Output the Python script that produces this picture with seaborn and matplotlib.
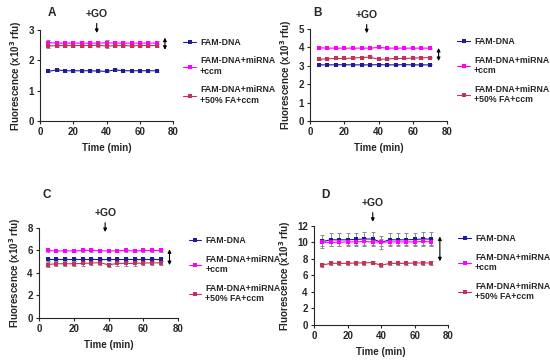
import numpy as np
import pandas as pd
import matplotlib
matplotlib.use("Agg")
import matplotlib.pyplot as plt
import seaborn as sns

sns.set_style("ticks")
plt.rcParams['font.family'] = ['Liberation Sans', 'DejaVu Sans']
plt.rcParams['font.weight'] = 'bold'

# time points (min)
time = [5, 10, 15, 20, 25, 30, 35, 40, 45, 50, 55, 60, 65, 70]
series_names = ["FAM-DNA", "FAM-DNA+miRNA\n+ccm", "FAM-DNA+miRNA\n+50% FA+ccm"]
colors = ["#1c1c9c", "#ff00ff", "#c8305a"]

# panel A
a_dna = [1.63, 1.68, 1.65, 1.65, 1.65, 1.65, 1.64, 1.63, 1.68, 1.65, 1.65, 1.65, 1.65, 1.65]
a_mir = [2.58, 2.56, 2.56, 2.56, 2.56, 2.56, 2.56, 2.57, 2.56, 2.56, 2.56, 2.56, 2.56, 2.56]
a_fa = [2.46, 2.48, 2.48, 2.48, 2.48, 2.48, 2.49, 2.46, 2.48, 2.48, 2.47, 2.48, 2.48, 2.48]
a_err = [0.03, 0.08, 0.05]

# panel B
b_dna = [3.05, 3.05, 3.05, 3.06, 3.05, 3.05, 3.05, 3.06, 3.05, 3.05, 3.06, 3.05, 3.05, 3.05]
b_mir = [3.98, 3.96, 3.96, 3.96, 3.96, 3.96, 3.96, 4.00, 3.96, 3.96, 3.96, 3.96, 3.96, 3.96]
b_fa = [3.35, 3.38, 3.40, 3.40, 3.42, 3.45, 3.47, 3.35, 3.37, 3.40, 3.40, 3.42, 3.43, 3.45]
b_err = [0.03, 0.03, 0.04]

# panel C
c_dna = [5.2, 5.2, 5.2, 5.2, 5.2, 5.2, 5.2, 5.2, 5.2, 5.2, 5.2, 5.2, 5.2, 5.2]
c_mir = [6.0, 5.95, 5.98, 5.95, 6.0, 6.0, 5.98, 5.95, 5.98, 6.0, 5.95, 6.0, 6.0, 6.0]
c_fa = [4.75, 4.82, 4.82, 4.82, 4.85, 4.88, 4.92, 4.72, 4.85, 4.85, 4.85, 4.88, 4.9, 4.9]
c_err = [0.15, 0.1, 0.2]

# panel D
d_dna = [10.1, 10.3, 10.3, 10.3, 10.35, 10.4, 10.4, 10.0, 10.3, 10.3, 10.3, 10.35, 10.4, 10.4]
d_mir = [10.0, 10.0, 10.0, 10.05, 10.05, 10.1, 10.05, 10.0, 10.05, 10.05, 10.05, 10.05, 10.1, 10.05]
d_fa = [7.25, 7.45, 7.45, 7.45, 7.5, 7.5, 7.55, 7.2, 7.45, 7.45, 7.45, 7.5, 7.5, 7.5]
d_err = [0.8, 0.4, 0.2]

# letter, values, errors, ymax, ystep, GO x, GO text y / tip y (axes frac), double arrow, axes rect, letter pos
panels = [
    ("A", [a_dna, a_mir, a_fa], a_err, 3, 1, 34, (1.12, 0.965), (2.34, 2.74),
     [0.073, 0.667, 0.242, 0.251], (52, 13)),
    ("B", [b_dna, b_mir, b_fa], b_err, 5, 1, 33, (1.10, 0.955), (3.26, 3.97),
     [0.564, 0.667, 0.249, 0.253], (317, 13)),
    ("C", [c_dna, c_mir, c_fa], c_err, 8, 2, 38, (1.11, 0.955), (4.7, 6.1),
     [0.071, 0.124, 0.253, 0.248], (47, 195)),
    ("D", [d_dna, d_mir, d_fa], d_err, 12, 2, 35, (1.18, 1.04), (7.7, 10.7),
     [0.571, 0.105, 0.244, 0.273], (325, 195)),
]

fig = plt.figure(figsize=(5.5, 3.63), dpi=100)

for letter, vals, errs, ymax, ystep, go_x, go_y, arr, rect, lpos in panels:
    ax = fig.add_axes(rect)
    df = pd.DataFrame({
        "time": time * 3,
        "value": vals[0] + vals[1] + vals[2],
        "series": [s for s in series_names for _ in time],
    })
    for name, v, e, c in zip(series_names, vals, errs, colors):
        ax.errorbar(time, v, yerr=e, fmt="none", ecolor="#8a8a8a", elinewidth=0.7,
                    capsize=1.5, capthick=0.7, zorder=1)
    sns.lineplot(data=df, x="time", y="value", hue="series", palette=colors,
                 marker="s", markersize=2.5, markeredgewidth=0, linewidth=0.8,
                 ax=ax, zorder=2)
    ax.set_xlim(0, 80)
    ax.set_ylim(0, ymax)
    ax.set_xticks([0, 20, 40, 60, 80])
    ax.set_yticks(np.arange(0, ymax + 0.01, ystep))
    sns.despine(ax=ax)
    ax.tick_params(labelsize=7, length=2.5, width=0.8, pad=2)
    for lab in ax.get_xticklabels() + ax.get_yticklabels():
        lab.set_fontweight("bold")
    ax.set_xlabel("Time (min)", fontsize=7, fontweight="bold", labelpad=4)
    ax.set_ylabel("Fluorescence (x10$^3$ rfu)", fontsize=7, fontweight="bold", labelpad=3)
    for sp in ax.spines.values():
        sp.set_linewidth(0.8)
    # +GO arrow
    ax.annotate("+GO", xy=(go_x, go_y[1]), xytext=(go_x, go_y[0]),
                xycoords=ax.get_xaxis_transform(), textcoords=ax.get_xaxis_transform(),
                ha="center", va="bottom", fontsize=7.5, fontweight="bold",
                arrowprops=dict(arrowstyle="-|>", color="black", lw=0.8,
                                mutation_scale=5, shrinkA=1, shrinkB=0),
                annotation_clip=False)
    fig.text(lpos[0] / 550, 1 - lpos[1] / 363, letter, fontsize=8.5,
             fontweight="bold", ha="center", va="center")
    # double arrow
    ax.annotate("", xy=(75, arr[0]), xytext=(75, arr[1]),
                arrowprops=dict(arrowstyle="<|-|>", color="black", lw=0.8,
                                mutation_scale=5, shrinkA=0, shrinkB=0),
                annotation_clip=False)
    leg = ax.legend(loc="upper left", bbox_to_anchor=(1.05, 0.95), frameon=False,
                    fontsize=6.3, handlelength=1.4, handletextpad=0.5,
                    labelspacing=1.1, borderaxespad=0)
    for t in leg.get_texts():
        t.set_fontweight("bold")

fig.savefig("out.png", dpi=100)
